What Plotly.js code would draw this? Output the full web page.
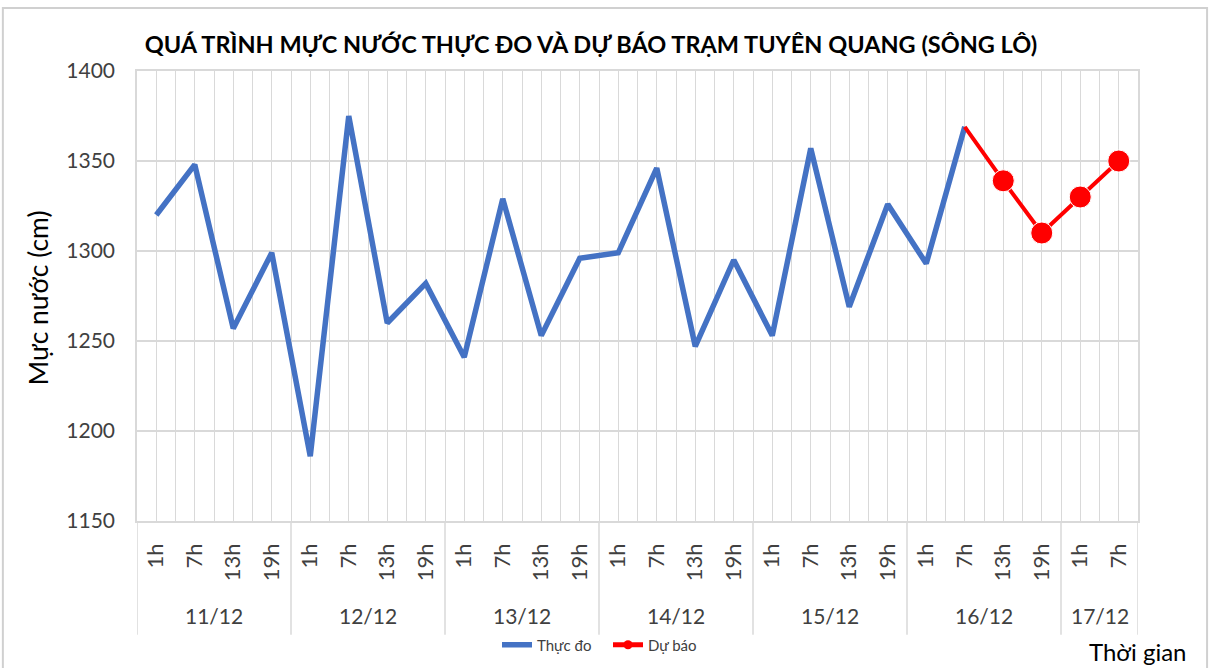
<!DOCTYPE html>
<html><head><meta charset="utf-8">
<script src="https://cdn.plot.ly/plotly-3.0.1.min.js"></script>
<style>body{margin:0;background:#fff}#c{width:1209px;height:668px}</style>
</head><body><div id="c"></div>
<script>
const hours = ["1h","7h","13h","19h","1h","7h","13h","19h","1h","7h","13h","19h","1h","7h","13h","19h","1h","7h","13h","19h","1h","7h","13h","19h","1h","7h"];
const dayLabels = ["11/12","12/12","13/12","14/12","15/12","16/12","17/12"];
const dayCounts = [4,4,4,4,4,4,2];
const observed = [1320,1348,1257,1299,1186,1375,1260,1282,1241,1329,1253,1296,1299,1346,1247,1295,1253,1357,1269,1326,1293,1369];
const forecast = [1369,1339,1310,1330,1350];
const forecastStart = 21;

const idx = hours.map((_, i) => i);
const obsX = observed.map((_, i) => i);
const fcX = forecast.map((_, i) => forecastStart + i);

const font = "Lato, 'Liberation Sans', Arial, sans-serif";
const gridColor = "#d9d9d9";

const shapes = [];
const annotations = [];
let start = 0;
const bounds = [-0.5];
dayCounts.forEach((n, k) => {
  const center = start + (n - 1) / 2;
  annotations.push({x: center, xref: 'x', y: -0.209, yref: 'paper', text: dayLabels[k], showarrow: false,
    font: {family: font, size: 21, color: '#404040'}, yanchor: 'middle'});
  start += n;
  bounds.push(start - 0.5);
});
bounds.forEach(b => shapes.push({type: 'line', xref: 'x', yref: 'paper', x0: b, x1: b, y0: 0, y1: -0.253,
  line: {color: gridColor, width: 1.5}}));
// outer frame
shapes.push({type: 'rect', xref: 'paper', yref: 'paper', x0: -0.134, x1: 1.069, y0: -0.4, y1: 1.14,
  line: {color: '#d0d0d0', width: 2}});

annotations.push({x: -0.0985, xref: 'paper', xanchor: 'center', y: (521 - 298) / 450, yref: 'paper', yanchor: 'middle',
  text: 'Mực nước (cm)', textangle: -90,
  showarrow: false, font: {family: font, size: 26.5, color: '#000'}});
annotations.push({x: 1.0, xref: 'paper', y: -0.291, yref: 'paper', text: 'Thời gian', xanchor: 'center', yanchor: 'middle',
  showarrow: false, font: {family: font, size: 24, color: '#000'}});

const minorVals = [];
for (let i = 0; i <= hours.length; i++) minorVals.push(i - 0.5);

const data = [
  {x: obsX, y: observed, type: 'scatter', mode: 'lines', name: 'Thực đo',
   line: {color: '#4472C4', width: 5.5}},
  {x: fcX, y: forecast, type: 'scatter', mode: 'lines+markers', name: 'Dự báo', showlegend: false,
   line: {color: '#FF0000', width: 4}, marker: {color: '#FF0000', opacity: 1, size: forecast.map((_, i) => i === 0 ? 0 : 22)}},
  {x: [null], y: [null], type: 'scatter', mode: 'lines+markers', name: 'Dự báo',
   line: {color: '#FF0000', width: 5}, marker: {color: '#FF0000', size: 9}}
];

const layout = {
  width: 1209, height: 668,
  margin: {l: 137, r: 71, t: 71, b: 147, autoexpand: false},
  paper_bgcolor: '#fff', plot_bgcolor: '#fff',
  title: {text: '<b>QUÁ TRÌNH MỰC NƯỚC THỰC ĐO VÀ DỰ BÁO TRẠM TUYÊN QUANG (SÔNG LÔ)</b>',
    x: 591 / 1209, xanchor: 'center', y: 1 - 45 / 668, yanchor: 'middle', yref: 'container',
    font: {family: font, size: 23.5, color: '#000'}},
  xaxis: {range: [-0.5, hours.length - 0.5], tickmode: 'array', tickvals: idx, ticktext: hours,
    tickangle: -90, showgrid: true, gridcolor: gridColor, gridwidth: 1, zeroline: false,
    showline: true, linecolor: gridColor, linewidth: 1.5, mirror: true, ticks: '', ticklabelstandoff: 12,
    tickfont: {family: font, size: 22, color: '#404040'},
    minor: {tickmode: 'array', tickvals: minorVals, showgrid: true, gridcolor: gridColor, gridwidth: 1}},
  yaxis: {range: [1150, 1400], dtick: 50, tick0: 1150, showgrid: true, gridcolor: gridColor, gridwidth: 1.5,
    zeroline: false, showline: true, linecolor: gridColor, linewidth: 1.5, mirror: true,
    ticks: 'outside', ticklen: 16, tickcolor: 'rgba(0,0,0,0)',
    tickfont: {family: font, size: 21, color: '#404040'}},
  legend: {orientation: 'h', x: (497 - 137) / 1001, xanchor: 'left', y: 1 - 645 / 668, yref: 'container', yanchor: 'middle',
    font: {family: font, size: 15, color: '#404040'}, bgcolor: 'rgba(0,0,0,0)', entrywidth: 66},
  showlegend: true,
  shapes: shapes, annotations: annotations
};
Plotly.newPlot('c', data, layout, {displayModeBar: false});
</script></body></html>
